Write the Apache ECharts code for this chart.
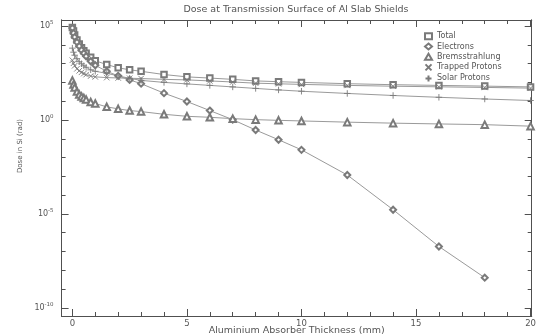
<!DOCTYPE html>
<html>
<head>
<meta charset="utf-8">
<style>html,body{margin:0;padding:0;background:#fff;}#c{width:542px;height:336px;}</style>
<script src="https://cdn.jsdelivr.net/npm/echarts@6/dist/echarts.min.js"></script>
</head>
<body>
<div id="c"></div>
<script>
// Depth in mm of aluminium
const depth = [0,0.05,0.1,0.2,0.3,0.4,0.5,0.6,0.8,1,1.5,2,2.5,3,4,5,6,7,8,9,10,12,14,16,18,20];
// Dose in Si (rad)
const total = [8.3e4,5.4e4,3.3e4,1.78e4,1.09e4,7.05e3,4.87e3,3.58e3,2.19e3,1.42e3,889,598,468,389,262,197,170,145,120,109,100,85.3,75.4,69.2,63.4,57.5];
const electrons = [7.8e4,4.2e4,2.58e4,1.39e4,8.49e3,5.19e3,3.58e3,2.47e3,1.33e3,815,389,223,136,85.3,26.8,9.6,3.17,1.04,0.293,0.0887,0.0258,1.18e-3,1.68e-5,1.86e-7,4.07e-9];
const brems = [128,78,54,33,22.8,17.8,14.8,12.3,9.04,7.52,5.0,3.91,3.17,2.80,2.01,1.57,1.39,1.18,1.04,0.957,0.889,0.767,0.678,0.615,0.564,0.469];
const trapped = [1510,1040,766,530,414,344,293,259,218,197,180,172,166,160,145,136,120,105,90.8,84.3,78.3,69.2,62.7,58.2,54.1,49.6];
const solar = [6640,4050,2800,1820,1260,980,766,637,468,389,304,223,164,128,100,83.2,69.2,57.5,47.8,39.7,33.8,25.8,20.1,16.1,13.1,10.9];
const seriesNames = ['Total','Electrons','Bremsstrahlung','Trapped Protons','Solar Protons'];
// Tick values
const xMajor = [0,5,10,15,20];
const xMinor = [1,2,3,4,6,7,8,9,11,12,13,14,16,17,18,19];
const yMajorExp = [-10,-5,0,5];
const yMinorExp = [-9,-8,-7,-6,-4,-3,-2,-1,1,2,3,4];

const toPts = vals => vals.map((v,i)=>[depth[i], Math.log10(v)]);
const LINE = '#9a9a9a', MARK = '#7a7a7a', TXT = '#555', AX = '#505050';
const FONT = 'DejaVu Sans';

function xAx(pos, ticks, len, labels){
  return {type:'value', position:pos, min:-0.47, max:20.05, gridIndex:0,
    axisLine:{show:true, onZero:false, lineStyle:{color:AX, width:1}},
    axisTick:{show:true, inside:true, length:len, customValues:ticks, lineStyle:{color:AX}},
    axisLabel:labels ? {show:true, customValues:ticks, margin:3, color:TXT, fontFamily:FONT, fontSize:8.5} : {show:false},
    splitLine:{show:false}};
}
function yAx(pos, ticks, len, labels){
  return {type:'value', position:pos, min:-10.43, max:5.32, gridIndex:0,
    axisLine:{show:true, onZero:false, lineStyle:{color:AX, width:1}},
    axisTick:{show:true, inside:true, length:len, customValues:ticks, lineStyle:{color:AX}},
    axisLabel:labels ? {show:true, customValues:ticks, margin:8, color:TXT, fontFamily:FONT,
      formatter: v => '{b|10}{s|' + v + '}',
      rich:{b:{fontSize:8, fontFamily:FONT, color:TXT}, s:{fontSize:5.5, fontFamily:FONT, color:TXT, padding:[0,0,6,0]}}} : {show:false},
    splitLine:{show:false}};
}
const X = xAx('bottom', xMajor, 7, true);
X.name = 'Aluminium Absorber Thickness (mm)';
X.nameLocation = 'middle';
X.nameGap = 10;
X.nameMoveOverlap = false;
X.nameTextStyle = {color:TXT, fontFamily:FONT, fontSize:9.5};

const common = (name, data, symbol, size) => ({
  name, type:'line', data, symbol, symbolSize:size, showSymbol:true,
  xAxisIndex:0, yAxisIndex:0, animation:false,
  lineStyle:{color:LINE, width:1},
  itemStyle:{color:MARK, borderColor:MARK, borderWidth:0.9},
  emphasis:{disabled:true}
});
const xPath = 'path://M0,0L10,10M10,0L0,10';
const plusPath = 'path://M5,0L5,10M0,5L10,5';
const sTrapped = common('Trapped Protons', toPts(trapped), xPath, 5.5);
sTrapped.itemStyle = {color:'none', borderColor:MARK, borderWidth:0.9};
const sSolar = common('Solar Protons', toPts(solar), plusPath, 6.5);
sSolar.itemStyle = {color:'none', borderColor:MARK, borderWidth:0.9};

const chart = echarts.init(document.getElementById('c'), null, {renderer:'canvas'});
chart.setOption({
  backgroundColor:'#fff',
  animation:false,
  title:{text:'Dose at Transmission Surface of Al Slab Shields', left:291, top:0, textAlign:'center',
    textStyle:{color:TXT, fontFamily:FONT, fontSize:9.5, fontWeight:'normal'}},
  grid:{left:61.6, right:10.3, top:20, bottom:20, containLabel:false, outerBoundsMode:'none'},
  xAxis:[X, xAx('bottom', xMinor, 4, false), xAx('top', xMajor, 7, false), xAx('top', xMinor, 4, false)],
  yAxis:[yAx('left', yMajorExp, 7, true), yAx('left', yMinorExp, 4, false), yAx('right', yMajorExp, 7, false), yAx('right', yMinorExp, 4, false)],
  legend:{orient:'vertical', left:418, top:26, itemWidth:7, itemHeight:6, itemGap:0,
    textStyle:{color:TXT, fontFamily:FONT, fontSize:8, lineHeight:10.3, padding:[0,0,0,0]},
    data:[{name:seriesNames[0], icon:'emptyRect'},{name:seriesNames[1], icon:'emptyDiamond'},{name:seriesNames[2], icon:'emptyTriangle'},{name:seriesNames[3], icon:xPath},{name:seriesNames[4], icon:plusPath}],
    selectedMode:false},
  graphic:[{type:'text', x:20, y:146, rotation:Math.PI/2,
    style:{text:'Dose in Si (rad)', fill:TXT, font:'7px "DejaVu Sans"', textAlign:'center', textVerticalAlign:'middle'}}],
  series:[
    common(seriesNames[0], toPts(total), 'emptyRect', 5.5),
    common(seriesNames[1], toPts(electrons), 'emptyDiamond', 6),
    common(seriesNames[2], toPts(brems), 'emptyTriangle', 6.5),
    sTrapped,
    sSolar
  ]
});
</script>
</body>
</html>
